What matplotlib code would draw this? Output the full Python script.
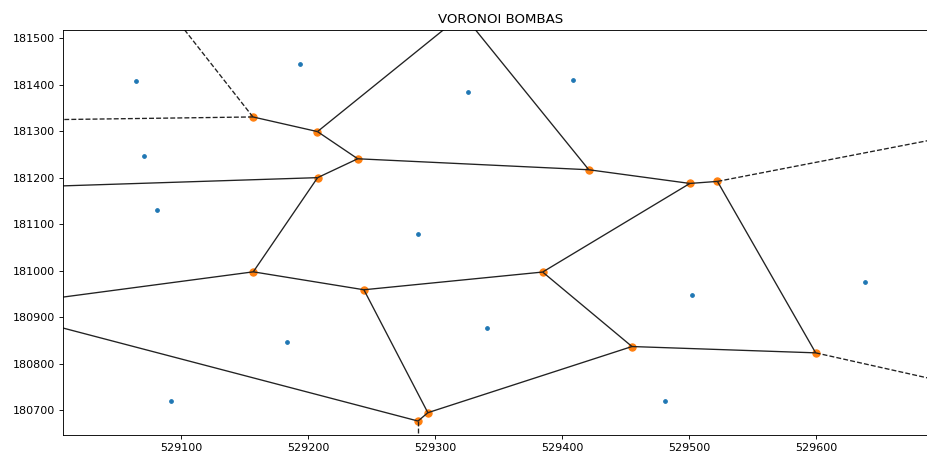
import numpy as np
import matplotlib
matplotlib.use("Agg")
import matplotlib.pyplot as plt
import matplotlib.tri as mtri
from matplotlib.collections import LineCollection

# posiciones de las bombas
bombas_x = [529064.3, 529070.3, 529080.6, 529193.5, 529326.2, 529408.9, 529286.4,
            529183.5, 529091.9, 529341.2, 529502.6, 529481.1, 529638.6]
bombas_y = [181408.5, 181247.0, 181130.4, 181445.6, 181385.5, 181410.0, 181079.0,
            180846.8, 180718.9, 180876.8, 180947.6, 180718.9, 180976.1]

pts = np.column_stack([bombas_x, bombas_y]).astype(float)
center = pts.mean(axis=0)
rel = pts - center

# voronoi = circuncentros de la triangulacion de delaunay
tri = mtri.Triangulation(rel[:, 0], rel[:, 1])


def circumcenter(a, b, c):
    d = 2 * (a[0] * (b[1] - c[1]) + b[0] * (c[1] - a[1]) + c[0] * (a[1] - b[1]))
    ux = ((a @ a) * (b[1] - c[1]) + (b @ b) * (c[1] - a[1]) + (c @ c) * (a[1] - b[1])) / d
    uy = ((a @ a) * (c[0] - b[0]) + (b @ b) * (a[0] - c[0]) + (c @ c) * (b[0] - a[0])) / d
    return np.array([ux, uy])


verts = np.array([circumcenter(*rel[t]) for t in tri.triangles])

ptp = np.ptp(pts, axis=0)
far = ptp.max() * abs(ptp.max() / ptp.min())

finite = []
infinite = []
for i, t in enumerate(tri.triangles):
    for j in range(3):
        p0, p1 = t[j], t[(j + 1) % 3]
        nb = tri.neighbors[i, j]
        if nb > i:
            finite.append([verts[i] + center, verts[nb] + center])
        elif nb == -1:
            tt = rel[p1] - rel[p0]
            tt /= np.linalg.norm(tt)
            n = np.array([-tt[1], tt[0]])
            mid = (rel[p0] + rel[p1]) / 2
            direction = np.sign(mid @ n) * n
            infinite.append([verts[i] + center, verts[i] + center + direction * far])

fig = plt.figure(figsize=(927 / 80, 453 / 80), dpi=80)
ax = fig.add_axes([63 / 927, 18 / 453, 875 / 927, 405 / 453])

ax.plot(pts[:, 0], pts[:, 1], '.', markersize=6.5)
ax.plot(verts[:, 0] + center[0], verts[:, 1] + center[1], 'o', markersize=6.5)
ax.add_collection(LineCollection(finite, colors='#222222', lw=1.2, linestyle='solid'))
ax.add_collection(LineCollection(infinite, colors='#222222', lw=1.2, linestyle='dashed'))

margin = 0.1 * ptp
ax.set_xlim(pts[:, 0].min() - margin[0], pts[:, 0].max() + margin[0])
ax.set_ylim(pts[:, 1].min() - margin[1], pts[:, 1].max() + margin[1])
ax.set_title("VORONOI BOMBAS")

fig.savefig("out.png", dpi=80)
